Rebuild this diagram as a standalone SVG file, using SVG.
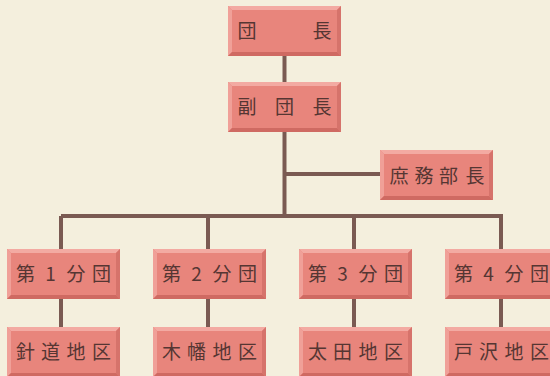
<svg xmlns="http://www.w3.org/2000/svg" xmlns:xlink="http://www.w3.org/1999/xlink" width="550" height="376" viewBox="0 0 550 376">
<style>
.t{font-family:"Noto Sans CJK JP","Noto Sans CJK SC",sans-serif;font-size:19px;fill:#553633;text-anchor:middle}
.ln{stroke:#7a5a52;stroke-width:4;fill:none}
</style>
<defs>
<g id="box">
<rect x="0" y="0" width="113" height="50" fill="#e8857c"/>
<polygon points="0,0 113,0 109,4 4,4" fill="#f3aaa2"/>
<polygon points="0,0 4,4 4,46 0,50" fill="#f0a098"/>
<polygon points="113,0 113,50 109,46 109,4" fill="#d6736b"/>
<polygon points="0,50 4,46 109,46 113,50" fill="#cf6a62"/>
</g>
</defs>
<rect width="550" height="376" fill="#f4efdd"/>
<g id="connectors" class="ln">
<line x1="284.5" y1="55" x2="284.5" y2="82"/>
<line x1="284.5" y1="132" x2="284.5" y2="216"/>
<line x1="284.5" y1="174" x2="380" y2="174"/>
<line x1="61" y1="216" x2="503" y2="216"/>
<line x1="61" y1="216" x2="61" y2="249"/>
<line x1="208" y1="216" x2="208" y2="249"/>
<line x1="354" y1="216" x2="354" y2="249"/>
<line x1="501" y1="216" x2="501" y2="249"/>
<line x1="61" y1="299" x2="61" y2="327"/>
<line x1="208" y1="299" x2="208" y2="327"/>
<line x1="354" y1="299" x2="354" y2="327"/>
<line x1="501" y1="299" x2="501" y2="327"/>
</g>
<g id="dancho"><use xlink:href="#box" x="228" y="6"/><text class="t" x="247 322" y="37.5">団長</text></g>
<g id="fukudancho"><use xlink:href="#box" x="228" y="82"/><text class="t" x="247 284.5 322" y="114">副団長</text></g>
<g id="shomu"><use xlink:href="#box" x="380" y="150"/><text class="t" x="399 424 448.5 475" y="182.5">庶務部長</text></g>
<g id="bun1"><use xlink:href="#box" x="7" y="249"/><text class="t" x="25.5 50.5 76 101.5" y="281">第1分団</text></g>
<g id="bun2"><use xlink:href="#box" x="153" y="249"/><text class="t" x="171.5 196.5 222 247.5" y="281">第2分団</text></g>
<g id="bun3"><use xlink:href="#box" x="299" y="249"/><text class="t" x="317.5 342.5 368 393.5" y="281">第3分団</text></g>
<g id="bun4"><use xlink:href="#box" x="445" y="249"/><text class="t" x="463.5 488.5 514 539.5" y="281">第4分団</text></g>
<g id="chiku1"><use xlink:href="#box" x="7" y="327"/><text class="t" x="25.5 50.5 76 101.5" y="359">針道地区</text></g>
<g id="chiku2"><use xlink:href="#box" x="153" y="327"/><text class="t" x="171.5 196.5 222 247.5" y="359">木幡地区</text></g>
<g id="chiku3"><use xlink:href="#box" x="299" y="327"/><text class="t" x="317.5 342.5 368 393.5" y="359">太田地区</text></g>
<g id="chiku4"><use xlink:href="#box" x="445" y="327"/><text class="t" x="463.5 488.5 514 539.5" y="359">戸沢地区</text></g>
</svg>
